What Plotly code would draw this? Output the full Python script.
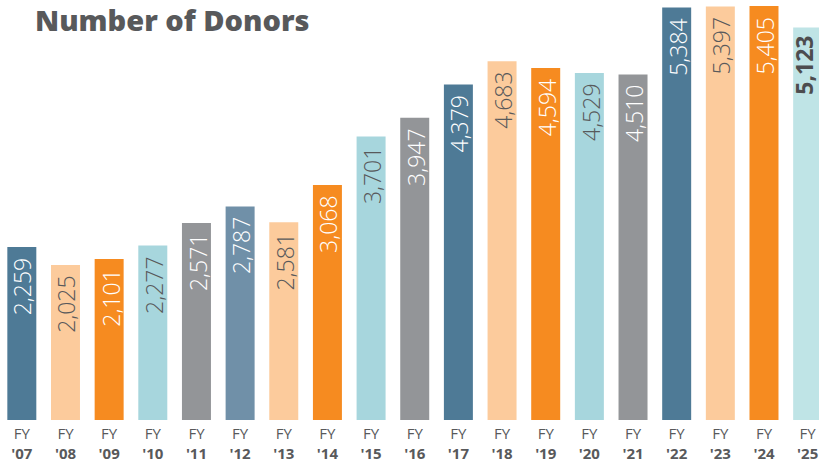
import plotly.graph_objects as go

years = ["'07", "'08", "'09", "'10", "'11", "'12", "'13", "'14", "'15", "'16",
         "'17", "'18", "'19", "'20", "'21", "'22", "'23", "'24", "'25"]
donors = [2259, 2025, 2101, 2277, 2571, 2787, 2581, 3068, 3701, 3947,
          4379, 4683, 4594, 4529, 4510, 5384, 5397, 5405, 5123]

DB = "#4e7a96"; PE = "#fccb9c"; OR = "#f68b20"; CY = "#a7d6dd"; GR = "#939598"; LB = "#7090a8"; PC = "#bfe4e6"
bar_colors = [DB, PE, OR, CY, GR, LB, PE, OR, CY, GR, DB, PE, OR, CY, GR, DB, PE, OR, PC]
WH = "#ffffff"; DK = "#58595b"
text_colors = [WH, DK, WH, DK, WH, WH, DK, WH, DK, WH, WH, DK, WH, DK, WH, WH, DK, WH, "#4d4d4f"]

cats = [f"FY<br><b>{y}</b>" for y in years]

fig = go.Figure(go.Bar(x=cats, y=donors, marker=dict(color=bar_colors, line=dict(width=0)),
                       hoverinfo="skip"))

for i, (c, v) in enumerate(zip(cats, donors)):
    last = i == len(cats) - 1
    fig.add_annotation(x=c, y=v, xref="x", yref="y", text=(f"<b>{v:,}</b>" if last else f"{v:,}"),
                       textangle=-90, showarrow=False, yanchor="top", xanchor="center",
                       yshift=-10 if not last else -7, xshift=1 if not last else -4,
                       borderpad=0,
                       font=dict(family="Open Sans", size=23, weight=(700 if last else 300),
                                 color=text_colors[i]))

fig.add_annotation(text="Number of Donors", xref="paper", yref="paper",
                   x=33 / 819, y=1, xanchor="left", yanchor="top", yshift=2, showarrow=False,
                   font=dict(family="Open Sans", size=29, weight=800, color="#58595b"))

fig.update_layout(
    width=819, height=470, autosize=False,
    margin=dict(l=0, r=0, t=0, b=50),
    paper_bgcolor="white", plot_bgcolor="white",
    bargap=0.336, showlegend=False, hovermode=False,
    xaxis=dict(type="category", range=[-0.5, 18.26], showgrid=False, zeroline=False,
               showline=False, ticks="", tickfont=dict(family="Open Sans", size=15, color="#58595b"),
               ticklabelstandoff=3, fixedrange=True),
    yaxis=dict(range=[0, 5483], visible=False, showgrid=False, zeroline=False, fixedrange=True),
)

fig.write_html("out.html", config={"displayModeBar": False},
               post_script="document.body.style.margin='0';")
